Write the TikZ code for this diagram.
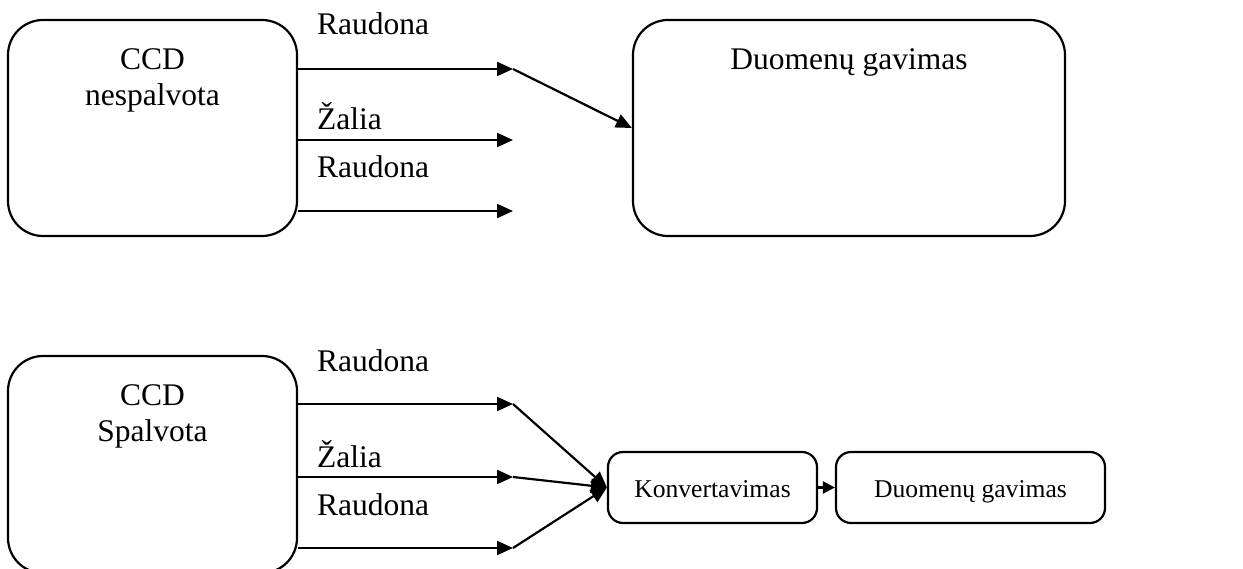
\documentclass[tikz,border=0pt]{standalone}
\usepackage{fontspec}
\setmainfont{Liberation Serif}
\usetikzlibrary{arrows.meta}
\begin{document}
\begin{tikzpicture}[x=1pt,y=-1pt,
  font=\fontsize{31.5}{36}\selectfont,
  bigbox/.style={draw,line width=2.2pt,rounded corners=35pt,inner sep=0pt,
    minimum width=#1},
  smallbox/.style={draw,line width=2.2pt,rounded corners=15pt,inner sep=0pt,
    minimum width=#1,minimum height=71pt},
  txt/.style={inner sep=0pt,anchor=base},
  stxt/.style={inner sep=0pt,anchor=base,font=\fontsize{25.6}{30}\selectfont},
  lbl/.style={inner sep=0pt,anchor=base west},
  arr/.style={line width=2.2pt,-{Triangle[length=16pt,width=14pt]}},
  sarr/.style={line width=2.2pt,-{Triangle[length=12pt,width=12pt]}}]
\useasboundingbox (0,0) rectangle (1243,569);

% upper row: monochrome sensor
\node[bigbox=289pt,minimum height=216pt] (ccdA) at (152.5,128) {};
\node[txt,align=center] (ccdAt) at (152.5,106) {CCD\\nespalvota};
\node[bigbox=432pt,minimum height=216pt] (duomA) at (849,128) {};
\node[txt] (duomAt) at (849,70) {Duomenų gavimas};

\coordinate (a1) at (513,69);
\coordinate (a2) at (513,140);
\coordinate (a3) at (513,211);
\draw[arr] (ccdA.east |- a1) -- (a1);
\draw[arr] (ccdA.east |- a2) -- (a2);
\draw[arr] (ccdA.east |- a3) -- (a3);
\draw[arr] (a1) -- (duomA.west);

\node[lbl] (la1) at (317,35) {Raudona};
\node[lbl] (la2) at (317,130) {Žalia};
\node[lbl] (la3) at (317,178) {Raudona};

% lower row: colour sensor
\node[bigbox=289pt,minimum height=217pt] (ccdB) at (152.5,464.5) {};
\node[txt,align=center] (ccdBt) at (152.5,442) {CCD\\Spalvota};
\node[smallbox=209pt] (konv) at (712.5,487.5) {};
\node[stxt] (konvt) at (712.5,497) {Konvertavimas};
\node[smallbox=269pt] (duomB) at (970.5,487.5) {};
\node[stxt] (duomBt) at (970.5,497) {Duomenų gavimas};

\coordinate (b1) at (513,404);
\coordinate (b2) at (513,477);
\coordinate (b3) at (513,548);
\draw[arr] (ccdB.east |- b1) -- (b1);
\draw[arr] (ccdB.east |- b2) -- (b2);
\draw[arr] (ccdB.east |- b3) -- (b3);
\draw[arr] (b1) -- (konv.west);
\draw[arr] (b2) -- (konv.west);
\draw[arr] (b3) -- (konv.west);
\draw[sarr] (konv.east) -- (duomB.west);

\node[lbl] (lb1) at (317,372) {Raudona};
\node[lbl] (lb2) at (317,467) {Žalia};
\node[lbl] (lb3) at (317,515) {Raudona};
\end{tikzpicture}
\end{document}
